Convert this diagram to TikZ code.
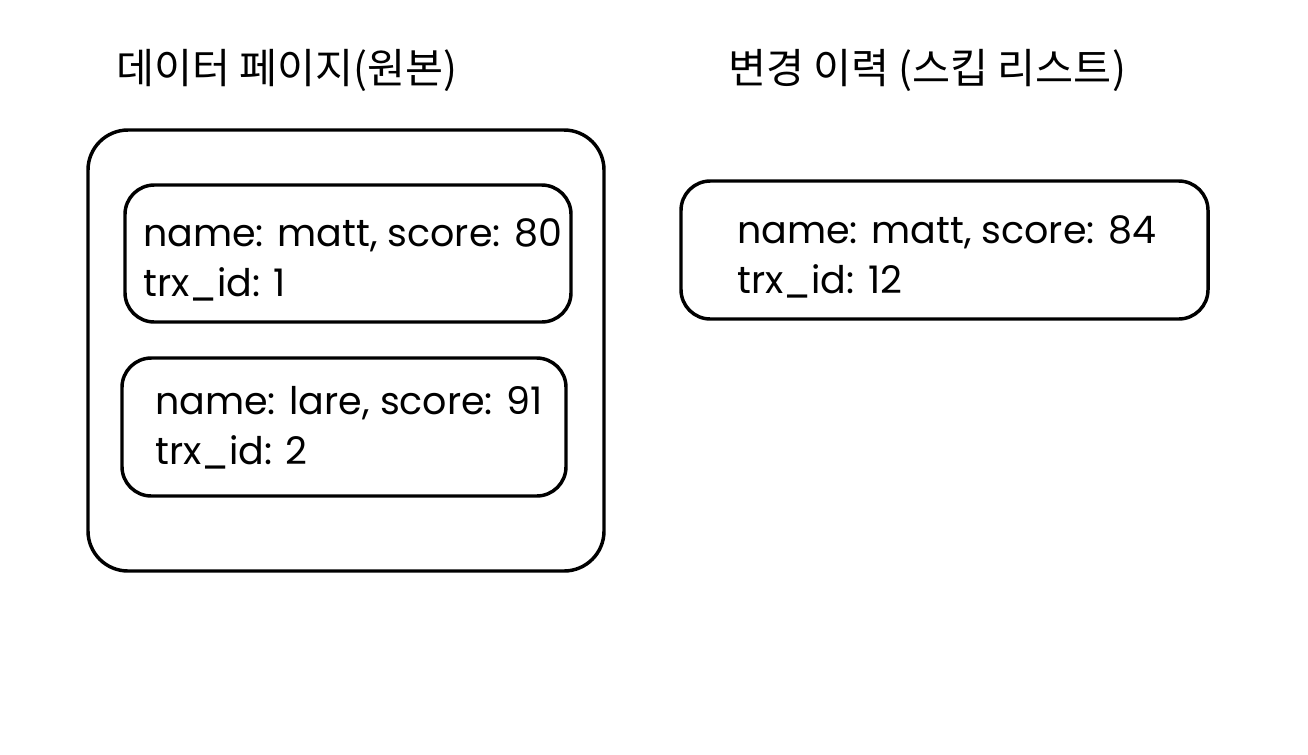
\documentclass[tikz,border=0pt]{standalone}
\usepackage{fontspec}
\setmainfont{Poppins}
\newfontfamily\kofont{Noto Sans CJK KR}
\begin{document}
\begin{tikzpicture}[x=0.75pt,y=-0.75pt,line join=round,line cap=round]
	\tikzset{box/.style={draw,line width=2.6pt,rounded corners=22pt,inner sep=0pt},
		rec/.style={anchor=west,align=left,font=\fontsize{28.5}{37.5}\selectfont,inner sep=0pt},
		title/.style={font=\kofont\fontsize{31}{36}\selectfont,inner sep=0pt}}
	\useasboundingbox (0,0) rectangle (1308,754);
	% titles
	\node[title] (tpage) at (287,70) {데이터 페이지(원본)};
	\node[title] (thist) at (927,70) {변경 이력 (스킵 리스트)};
	% page with two records
	\node[box,rounded corners=30pt,minimum width=387pt,minimum height=330.75pt] (page) at (346,350.5) {};
	\node[box,minimum width=334.5pt,minimum height=102.75pt] (r1) at (348,253.5) {};
	\node[box,minimum width=333pt,minimum height=103.5pt] (r2) at (344,427) {};
	\node[rec] (t1) at (143,260) {name: matt, score: 80\\trx\_id: 1};
	\node[rec] (t2) at (155,428) {name: lare, score: 91\\trx\_id: 2};
	% undo record
	\node[box,minimum width=395.25pt,minimum height=103.5pt] (u1) at (944.5,250) {};
	\node[rec] (t3) at (737,257) {name: matt, score: 84\\trx\_id: 12};
\end{tikzpicture}
\end{document}
